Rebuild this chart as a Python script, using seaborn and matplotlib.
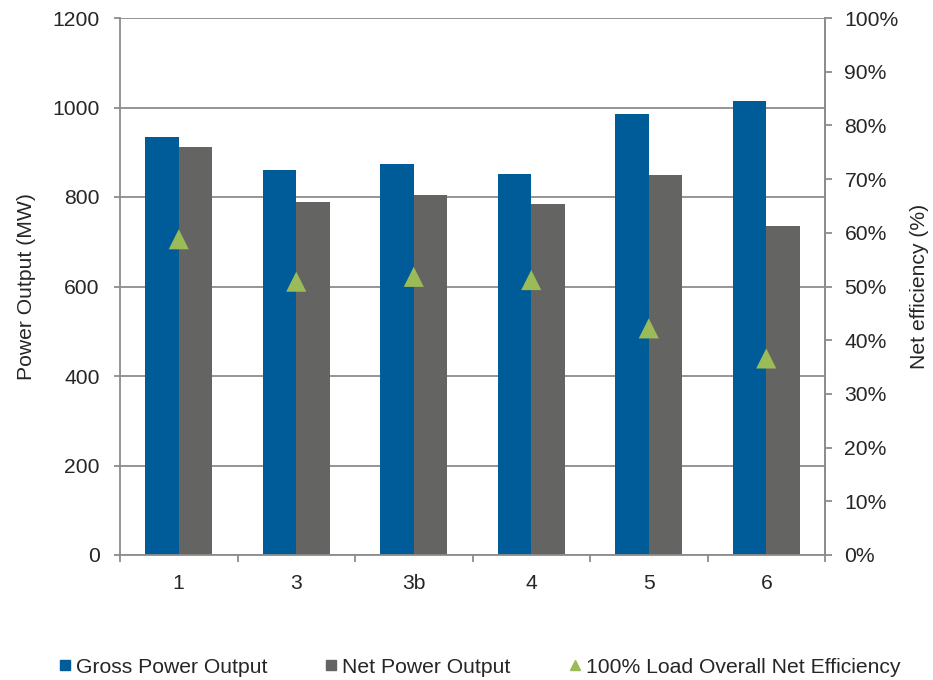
import matplotlib
matplotlib.use("Agg")
import matplotlib.pyplot as plt
from matplotlib.lines import Line2D
from matplotlib.ticker import FixedLocator, PercentFormatter
import numpy as np
import pandas as pd
import seaborn as sns

# data
categories = ["1", "3", "3b", "4", "5", "6"]
gross_mw = [933, 860, 874, 851, 985, 1014]
net_mw = [911, 789, 804, 785, 849, 736]
net_eff = [58.8, 50.9, 51.8, 51.2, 42.2, 36.6]

series = ["Gross Power Output", "Net Power Output"]
colors = ["#005B99", "#646462"]
eff_color = "#9BBB59"
grid_color = "#8C8C8C"
fs = 15.2

df = pd.DataFrame({
    "case": categories * 2,
    "series": [series[0]] * len(categories) + [series[1]] * len(categories),
    "mw": gross_mw + net_mw,
})

sns.set_style("white")
plt.rcParams["font.family"] = ["Liberation Sans", "DejaVu Sans"]
plt.rcParams["font.size"] = fs

fig = plt.figure(figsize=(9.33, 6.8), dpi=100)
ax = fig.add_axes([120 / 933, 1 - 555 / 680, 705 / 933, 537 / 680])

sns.barplot(data=df, x="case", y="mw", hue="series", order=categories,
            hue_order=series, palette=colors, saturation=1, width=0.57,
            linewidth=0, ax=ax, legend=False)

ax.set_ylim(0, 1200)
ax.set_xlim(-0.5, len(categories) - 0.5)
ax.set_yticks(range(0, 1201, 200))
ax.yaxis.grid(True, color=grid_color, linewidth=1.3)
ax.set_axisbelow(True)
ax.set_xlabel("")
ax.set_ylabel("Power Output (MW)", fontsize=fs, labelpad=12)

for side in ["left", "bottom", "right"]:
    ax.spines[side].set_color(grid_color)
    ax.spines[side].set_linewidth(1.3)
ax.spines["top"].set_visible(False)

ax.tick_params(axis="y", length=4.5, color=grid_color, width=1.3, direction="out",
               left=True, labelsize=fs, pad=10)
ax.tick_params(axis="x", which="major", length=0, labelsize=fs, pad=14)
ax.xaxis.set_minor_locator(FixedLocator(np.arange(-0.5, len(categories), 1)))
ax.tick_params(axis="x", which="minor", length=5, color=grid_color, width=1.3,
               direction="out", bottom=True)

ax2 = ax.twinx()
sns.scatterplot(x=np.arange(len(categories)), y=net_eff, marker="^", s=210,
                color=eff_color, edgecolor="none", ax=ax2, zorder=5)
ax2.set_ylim(0, 100)
ax2.set_yticks(range(0, 101, 10))
ax2.yaxis.set_major_formatter(PercentFormatter(decimals=0))
ax2.tick_params(axis="y", length=5, color=grid_color, width=1.3, direction="out",
                right=True, labelsize=fs, pad=9)
ax2.set_ylabel("Net efficiency (%)", fontsize=fs, labelpad=8)
ax2.grid(False)
for side in ["left", "bottom", "top"]:
    ax2.spines[side].set_visible(False)
ax2.spines["right"].set_color(grid_color)
ax2.spines["right"].set_linewidth(1.3)

handles = [
    Line2D([], [], marker="s", linestyle="", color=colors[0], markersize=7.5),
    Line2D([], [], marker="s", linestyle="", color=colors[1], markersize=7.5),
    Line2D([], [], marker="^", linestyle="", color=eff_color, markersize=7.5),
]
labels = series + ["100% Load Overall Net Efficiency"]
fig.legend(handles, labels, loc="center", bbox_to_anchor=(0.514, 0.019),
           ncol=3, frameon=False, fontsize=fs, handlelength=0.55,
           handletextpad=0.25, columnspacing=2.75)

fig.savefig("out.png", dpi=100)
